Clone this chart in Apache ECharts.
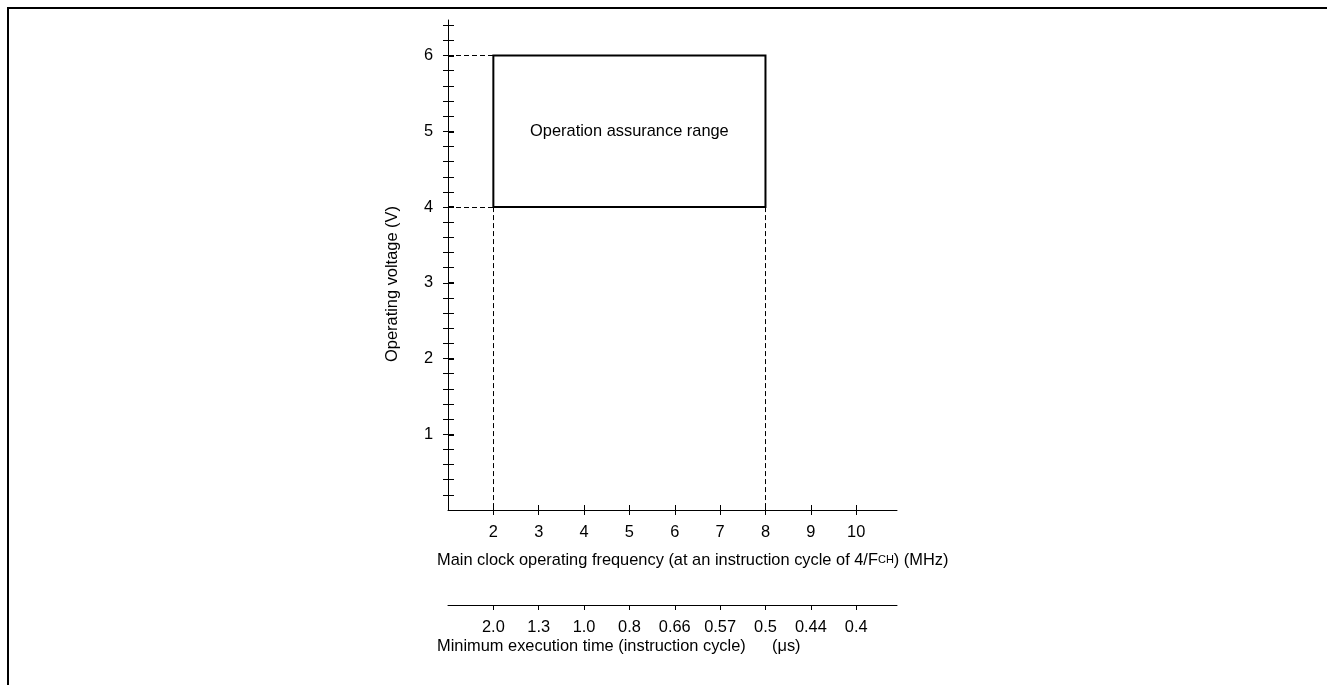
<!DOCTYPE html>
<html lang="en" style="height: 100%">
<head>
  <meta charset="utf-8">
</head>
<body style="height: 100%; margin: 0" bgcolor="#ffffff">
  <div id="container" style="width: 1327px; height: 685px"></div>
  <script type="text/javascript" src="https://cdn.jsdelivr.net/npm/echarts@6/dist/echarts.min.js"></script>
  <script type="text/javascript">
    // frequency axis (MHz)
    var freqTicks = [2, 3, 4, 5, 6, 7, 8, 9, 10];
    // minimum execution time (us) under each frequency tick
    var execTimeLabels = ['2.0', '1.3', '1.0', '0.8', '0.66', '0.57', '0.5', '0.44', '0.4'];
    // voltage axis
    var voltLabels = [1, 2, 3, 4, 5, 6];
    var voltMinorTicks = [0.2, 0.4, 0.6, 0.8, 1, 1.2, 1.4, 1.6, 1.8, 2, 2.2, 2.4, 2.6, 2.8, 3,
      3.2, 3.4, 3.6, 3.8, 4, 4.2, 4.4, 4.6, 4.8, 5, 5.2, 5.4, 5.6, 5.8, 6, 6.2, 6.4];
    // operation assurance range
    var rangeFreq = [2, 8];
    var rangeVolt = [4, 6];

    var xMin = 1, xMax = 10.9;
    var yMin = 0, yMax = 6.47;
    var font = "'Liberation Sans', Arial, sans-serif";
    var fs = 16.4;

    var myChart = echarts.init(document.getElementById('container'));

    function xAx(opts) {
      var base = {
        type: 'value',
        position: 'bottom',
        min: xMin,
        max: xMax,
        offset: 0,
        splitLine: {show: false},
        axisLine: {show: true, onZero: false, lineStyle: {color: '#000', width: 1}},
        axisTick: {show: true, inside: false, length: 5, customValues: freqTicks,
          lineStyle: {color: '#000', width: 1}},
        axisLabel: {show: false}
      };
      return Object.assign(base, opts);
    }

    function yAx(opts) {
      var base = {
        type: 'value',
        position: 'left',
        min: yMin,
        max: yMax,
        offset: 0,
        splitLine: {show: false},
        axisLine: {show: true, onZero: false, lineStyle: {color: '#000', width: 1}},
        axisTick: {show: true, inside: false, length: 5, customValues: voltMinorTicks,
          lineStyle: {color: '#000', width: 1}},
        axisLabel: {show: false}
      };
      return Object.assign(base, opts);
    }

    var dashStyle = {color: '#000', width: 1, type: [5, 3]};

    var option = {
      animation: false,
      backgroundColor: '#fff',
      textStyle: {fontFamily: font},
      grid: {left: 448, top: 20, width: 449, height: 490, containLabel: false, outerBoundsMode: 'none'},
      xAxis: [
        xAx({
          axisLabel: {show: true, customValues: freqTicks, margin: 14, color: '#000',
            fontSize: fs, fontFamily: font}
        }),
        xAx({axisLine: {show: false}, axisTick: {show: true, inside: true, length: 5,
          customValues: freqTicks, lineStyle: {color: '#000', width: 1}}}),
        xAx({
          offset: 95,
          axisLabel: {show: true, customValues: freqTicks, margin: 14, color: '#000',
            fontSize: fs, fontFamily: font,
            formatter: function (v) { return execTimeLabels[freqTicks.indexOf(v)]; }}
        }),
        xAx({offset: 95, axisLine: {show: false}, axisTick: {show: true, inside: true, length: 5,
          customValues: freqTicks, lineStyle: {color: '#000', width: 1}}})
      ],
      yAxis: [
        yAx({
          axisLabel: {show: true, customValues: voltLabels, margin: 15, color: '#000',
            fontSize: fs, fontFamily: font}
        }),
        yAx({axisLine: {show: false}, axisTick: {show: true, inside: true, length: 6,
          customValues: voltMinorTicks, lineStyle: {color: '#000', width: 1}}}),
        yAx({axisLine: {show: false}, axisTick: {show: true, inside: true, length: 6,
          customValues: voltLabels, lineStyle: {color: '#000', width: 2}}})
      ],
      graphic: [
        {
          type: 'polyline', silent: true,
          shape: {points: [[8, 685], [8, 8], [1327, 8]]},
          style: {stroke: '#000', lineWidth: 2, fill: null}
        },
        {
          type: 'text', silent: true, x: 392, y: 284, rotation: Math.PI / 2,
          style: {text: 'Operating voltage (V)', font: fs + 'px ' + font, fill: '#000',
            align: 'center', verticalAlign: 'middle'}
        },
        {
          type: 'text', silent: true, x: 437, y: 560,
          style: {
            text: 'Main clock operating frequency (at an instruction cycle of 4/F{s|CH}) (MHz)',
            rich: {s: {fontSize: 11, fontFamily: font, fill: '#000'}},
            font: fs + 'px ' + font, fill: '#000', align: 'left', verticalAlign: 'middle'
          }
        },
        {
          type: 'text', silent: true, x: 437, y: 646,
          style: {text: 'Minimum execution time (instruction cycle)', font: fs + 'px ' + font,
            fill: '#000', align: 'left', verticalAlign: 'middle'}
        },
        {
          type: 'text', silent: true, x: 772, y: 646,
          style: {text: '(\u03bcs)', font: fs + 'px ' + font,
            fill: '#000', align: 'left', verticalAlign: 'middle'}
        }
      ],
      series: [
        {
          type: 'line',
          xAxisIndex: 0,
          yAxisIndex: 0,
          data: [],
          silent: true,
          markArea: {
            silent: true,
            itemStyle: {color: 'rgba(0,0,0,0)', borderColor: '#000', borderWidth: 2},
            label: {show: true, position: 'inside', color: '#000', fontSize: fs, fontFamily: font},
            data: [[
              {name: 'Operation assurance range', coord: [rangeFreq[0], rangeVolt[1]]},
              {coord: [rangeFreq[1], rangeVolt[0]]}
            ]]
          },
          markLine: {
            silent: true,
            symbol: 'none',
            label: {show: false},
            lineStyle: dashStyle,
            data: [
              [{coord: [xMin, rangeVolt[1]]}, {coord: [rangeFreq[0], rangeVolt[1]]}],
              [{coord: [xMin, rangeVolt[0]]}, {coord: [rangeFreq[0], rangeVolt[0]]}],
              [{coord: [rangeFreq[0], rangeVolt[0]]}, {coord: [rangeFreq[0], yMin]}],
              [{coord: [rangeFreq[1], rangeVolt[0]]}, {coord: [rangeFreq[1], yMin]}]
            ]
          }
        }
      ]
    };

    myChart.setOption(option);
  </script>
</body>
</html>
